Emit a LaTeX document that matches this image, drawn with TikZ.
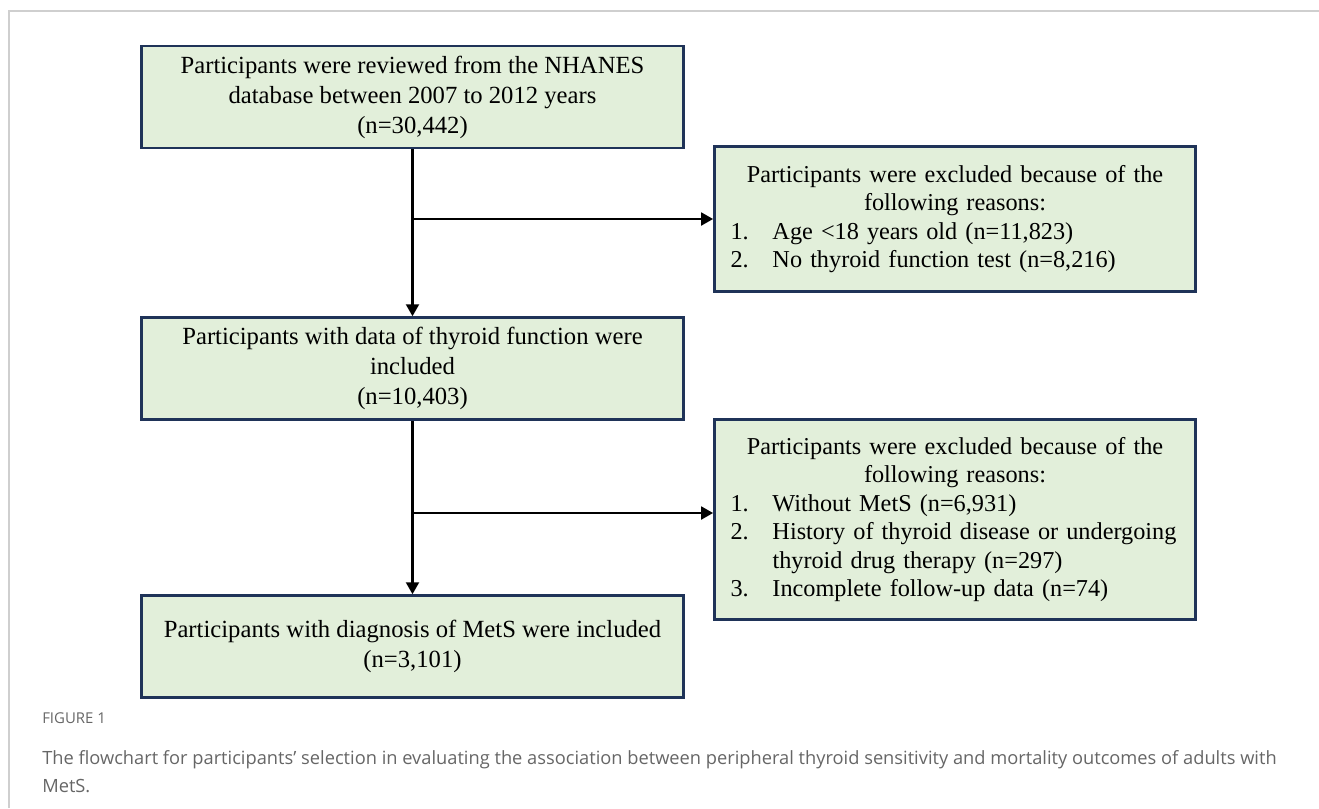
\documentclass[tikz,border=0pt]{standalone}
\usepackage{fontspec}
\setmainfont{Liberation Serif}
\newfontfamily\capfont{Open Sans}
\usepackage{xcolor}
\usetikzlibrary{arrows.meta,positioning,calc}

\definecolor{boxfill}{HTML}{E2EFDA}
\definecolor{boxline}{HTML}{1F3358}
\definecolor{framegray}{HTML}{CFCFCF}
\definecolor{capgray}{HTML}{666666}

% one numbered reason, with the number in a fixed column
\newcommand{\reason}[2]{\makebox[\hsize][l]{\makebox[31.5pt][l]{#1}#2}}

\begin{document}
\begin{tikzpicture}[
  x=0.75pt, y=-0.75pt,
  stepbox/.style={draw=boxline, fill=boxfill, line width=2pt, minimum width=406.5pt, minimum height=76.5pt, align=center, font=\fontsize{18.5}{22.5}\selectfont},
  exclbox/.style={draw=boxline, fill=boxfill, line width=2pt, inner xsep=12pt, text width=336.75pt, align=center, font=\fontsize{18.2}{21.4}\selectfont},
  arr/.style={-{Triangle[length=9pt,width=9.5pt]}, line width=2.1pt},
]
  \useasboundingbox (0,0) rectangle (1319,808);
  \draw[framegray, line width=1.6pt] (9,808) -- (9,11) -- (1319,11);

  \node[stepbox] (revw) at (412.5,97) {Participants were reviewed from the NHANES\\database between 2007 to 2012 years\\(n=30,442)};
  \node[stepbox, below=125.25pt of revw] (incl) {Participants with data of thyroid function were\\included\\(n=10,403)};
  \node[stepbox, below=130pt of incl] (mets) {Participants with diagnosis of MetS were included\\(n=3,101)};

  \node[exclbox, minimum height=108.75pt] (excla) at (955,219) {Participants were excluded because of the\\following reasons:\\
    \reason{1.}{Age <18 years old (n=11,823)}\\
    \reason{2.}{No thyroid function test (n=8,216)}\\[3pt]};
  \node[exclbox, minimum height=150pt] (exclb) at (955,519.5) {Participants were excluded because of the\\following reasons:\\
    \reason{1.}{Without MetS (n=6,931)}\\
    \reason{2.}{History of thyroid disease or undergoing}\\
    \reason{}{thyroid drug therapy (n=297)}\\
    \reason{3.}{Incomplete follow-up data (n=74)}};

  \coordinate (bra) at (412.5,219);
  \coordinate (brb) at (412.5,513);

  \draw[arr] (revw) -- (incl);
  \draw[arr] (incl) -- (mets);
  \draw[arr] (bra) -- (bra -| excla.west);
  \draw[arr] (brb) -- (brb -| exclb.west);

  \node[anchor=base west, text=capgray, inner sep=0pt, font=\capfont\fontsize{11.2}{13}\selectfont] (fig) at (42,723) {FIGURE 1};
  \node[anchor=base west, text=capgray, align=left, inner sep=0pt, font=\capfont\fontsize{13.7}{21}\selectfont] (cap) at (42,792) {The flowchart for participants’ selection in evaluating the association between peripheral thyroid sensitivity and mortality outcomes of adults with\\MetS.};
\end{tikzpicture}
\end{document}
